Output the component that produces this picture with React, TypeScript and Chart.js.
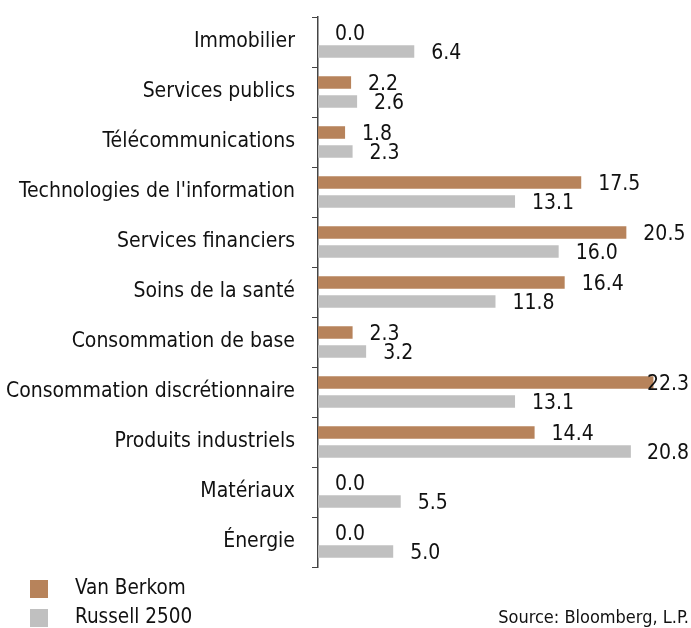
import React, { useEffect, useRef } from "react";
import { Chart, registerables } from "chart.js";

Chart.register(...registerables);

const categories = [
  "Immobilier",
  "Services publics",
  "Télécommunications",
  "Technologies de l'information",
  "Services financiers",
  "Soins de la santé",
  "Consommation de base",
  "Consommation discrétionnaire",
  "Produits industriels",
  "Matériaux",
  "Énergie",
];
const vanBerkom = [0.0, 2.2, 1.8, 17.5, 20.5, 16.4, 2.3, 22.3, 14.4, 0.0, 0.0];
const russell2500 = [6.4, 2.6, 2.3, 13.1, 16.0, 11.8, 3.2, 13.1, 20.8, 5.5, 5.0];
const seriesNames = ["Van Berkom", "Russell 2500"];
const sourceText = "Source: Bloomberg, L.P.";

const ORANGE = "#B7835B";
const GRAY = "#C0C0C0";
const FONT = "'Liberation Sans Narrow', 'DejaVu Sans Condensed', sans-serif";

const extrasPlugin = {
  id: "extras",
  afterDatasetsDraw(chart: any) {
    const ctx = chart.ctx;
    ctx.save();
    ctx.font = `21px ${FONT}`;
    ctx.fillStyle = "#111";
    ctx.textBaseline = "middle";
    ctx.textAlign = "left";
    chart.data.datasets.forEach((ds: any, di: number) => {
      const meta = chart.getDatasetMeta(di);
      meta.data.forEach((bar: any, i: number) => {
        const txt = Number(ds.data[i]).toFixed(1);
        const w = ctx.measureText(txt).width;
        let x = bar.x + 17;
        if (x + w > chart.width - 2) x = chart.width - 2 - w;
        ctx.fillText(txt, x, bar.y + 2.5);
      });
    });
    // legend
    const colors = [ORANGE, GRAY];
    const rowsY = [589, 618];
    seriesNames.forEach((name, i) => {
      ctx.fillStyle = colors[i];
      ctx.fillRect(30, rowsY[i] - 9, 18, 18);
      ctx.fillStyle = "#111";
      ctx.font = `20.5px ${FONT}`;
      ctx.textAlign = "left";
      ctx.fillText(name, 75, rowsY[i]);
    });
    ctx.font = `18px ${FONT}`;
    ctx.textAlign = "right";
    ctx.fillText(sourceText, 689, 618);
    ctx.restore();
  },
};

export default function App() {
  const ref = useRef<HTMLCanvasElement | null>(null);
  useEffect(() => {
    if (!ref.current) return;
    const chart = new Chart(ref.current, {
      type: "bar",
      data: {
        labels: categories,
        datasets: [
          {
            label: seriesNames[0],
            data: vanBerkom,
            backgroundColor: ORANGE,
            categoryPercentage: 0.76,
            barPercentage: 0.66,
          },
          {
            label: seriesNames[1],
            data: russell2500,
            backgroundColor: GRAY,
            categoryPercentage: 0.76,
            barPercentage: 0.66,
          },
        ],
      },
      options: {
        indexAxis: "y",
        responsive: false,
        animation: false,
        layout: { padding: { left: 0, top: 17, right: 12, bottom: 61 } },
        plugins: { legend: { display: false }, tooltip: { enabled: false } },
        scales: {
          x: { display: false, min: 0, max: 24 },
          y: {
            afterFit: (scale: any) => {
              scale.width = 318;
              scale.paddingTop = 0;
              scale.paddingBottom = 0;
            },
            grid: {
              display: true,
              drawOnChartArea: false,
              tickLength: 6,
              color: "#444",
              offset: true,
            },
            border: { display: true, color: "#444", width: 1.5 },
            ticks: {
              padding: 17,
              color: "#111",
              font: { family: FONT, size: 21 },
            },
          },
        },
      },
      plugins: [extrasPlugin],
    });
    return () => chart.destroy();
  }, []);
  return (
    <div style={{ position: "absolute", left: 0, top: 0, width: 691, height: 628, background: "#fff" }}>
      <canvas ref={ref} width={691} height={628} />
    </div>
  );
}
